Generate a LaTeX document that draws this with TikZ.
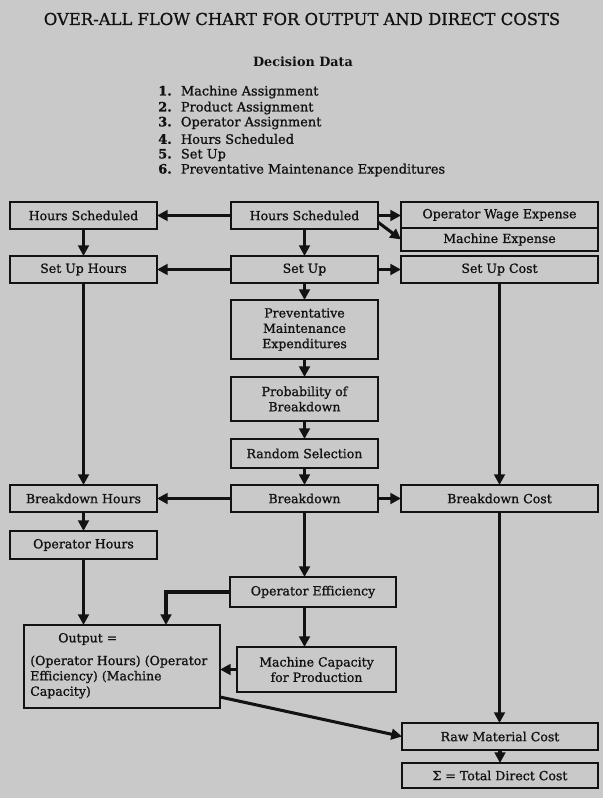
\documentclass[tikz,border=0pt]{standalone}
\usepackage{fontspec}
\setmainfont{DejaVu Serif}
\newfontfamily\heavyserif{DejaVu Serif}[FakeBold=1.0]
\usetikzlibrary{arrows.meta}

\definecolor{paper}{RGB}{201,201,201}
\definecolor{ink}{RGB}{18,18,18}

\newcommand\boxfont{\heavyserif\fontsize{9.4}{11.5}\selectfont}
\newcommand\listfont{\heavyserif\fontsize{9.7}{11.5}\selectfont}

\tikzset{
  box/.style={draw=ink, line width=1.1pt, inner sep=2pt, outer sep=0pt,
              text=ink, font=\boxfont, align=center},
  flow/.style={draw=ink, line width=2.3pt,
               -{Triangle[length=8pt,width=8pt]}},
  plain/.style={text=ink, font=\boxfont, inner sep=0pt},
}

% box given by its corners (x1,y1) (x2,y2) in pixel units
\newcommand\placebox[6]{%
  \node[box, minimum width={(#4-#2)*0.75pt}, minimum height={(#5-#3)*0.75pt}]
    (#1) at ({(#2+#4)/2},{(#3+#5)/2}) {#6};}

\begin{document}
\begin{tikzpicture}[x=0.75pt, y=-0.75pt]
\fill[paper] (0,0) rectangle (603,798);
\useasboundingbox (0,0) rectangle (603,798);

% heading and decision data
\node[plain, font=\heavyserif\fontsize{12.3}{15}\selectfont] (title) at (302,19)
  {OVER-ALL FLOW CHART FOR OUTPUT AND DIRECT COSTS};
\node[plain, font=\fontsize{9.6}{11.5}\selectfont\bfseries] (dd) at (303,62) {Decision Data};
\node[plain, font=\listfont, anchor=west] (d1) at (158,92)  {\makebox[17pt][l]{\bfseries 1.}Machine Assignment};
\node[plain, font=\listfont, anchor=west] (d2) at (158,108) {\makebox[17pt][l]{\bfseries 2.}Product Assignment};
\node[plain, font=\listfont, anchor=west] (d3) at (158,123) {\makebox[17pt][l]{\bfseries 3.}Operator Assignment};
\node[plain, font=\listfont, anchor=west] (d4) at (158,139) {\makebox[17pt][l]{\bfseries 4.}Hours Scheduled};
\node[plain, font=\listfont, anchor=west] (d5) at (158,155) {\makebox[17pt][l]{\bfseries 5.}Set Up};
\node[plain, font=\listfont, anchor=west] (d6) at (158,170) {\makebox[17pt][l]{\bfseries 6.}Preventative Maintenance Expenditures};

% boxes
\placebox{hsL}{10}{202}{157}{229}{Hours Scheduled}
\placebox{hsC}{231}{202}{378}{229}{Hours Scheduled}
\placebox{ow}{401}{202}{598}{228}{Operator Wage Expense}
\placebox{me}{401}{228}{598}{251}{Machine Expense}
\placebox{suL}{10}{256}{157}{283}{Set Up Hours}
\placebox{suC}{231}{256}{378}{283}{Set Up}
\placebox{suR}{401}{256}{598}{283}{Set Up Cost}
\placebox{pme}{231}{300}{378}{359}{Preventative\\Maintenance\\Expenditures}
\placebox{pb}{231}{377}{378}{421}{Probability of\\Breakdown}
\placebox{rs}{231}{439}{378}{468}{Random Selection}
\placebox{bdL}{10}{485}{157}{512}{Breakdown Hours}
\placebox{bdC}{231}{485}{378}{512}{Breakdown}
\placebox{bdR}{401}{485}{598}{512}{Breakdown Cost}
\placebox{oh}{10}{531}{157}{559}{Operator Hours}
\placebox{oe}{230}{577}{396}{607}{Operator Efficiency}
\placebox{mc}{237}{647}{396}{692}{Machine Capacity\\for Production}
\placebox{out}{24}{625}{220}{708}{}
\node[plain, anchor=west] (outA) at (58,639) {Output =};
\node[plain, anchor=west, align=left] (outB) at (30,677)
  {(Operator Hours) (Operator\\Efficiency) (Machine\\Capacity)};
\placebox{rm}{402}{723}{598}{750}{Raw Material Cost}
\placebox{td}{402}{763}{598}{788}{Σ = Total Direct Cost}

% connectors
\draw[flow] (hsC.west) -- (hsL.east);
\draw[flow] (hsC.east) -- (hsC.east -| ow.west);
\draw[flow] ([yshift=-5pt]hsC.east) -- (me.west);
\draw[flow] (hsL.south) -- (suL.north);
\draw[flow] (hsC.south) -- (suC.north);
\draw[flow] (suC.west) -- (suL.east);
\draw[flow] (suC.east) -- (suR.west);
\draw[flow] (suC.south) -- (pme.north);
\draw[flow] (pme.south) -- (pb.north);
\draw[flow] (pb.south) -- (rs.north);
\draw[flow] (rs.south) -- (bdC.north);
\draw[flow] (suL.south) -- (bdL.north);
\draw[flow] (suR.south) -- (bdR.north);
\draw[flow] (bdC.west) -- (bdL.east);
\draw[flow] (bdC.east) -- (bdR.west);
\draw[flow] (bdL.south) -- (oh.north);
\draw[flow] (bdC.south) -- (bdC.south |- oe.north);
\draw[flow] (oh.south) -- (oh.south |- out.north);
\coordinate (effIn) at (166,625);
\draw[flow] (oe.west) -| (effIn);
\draw[flow] (bdC.south |- oe.south) -- (bdC.south |- mc.north);
\draw[flow] (mc.west) -- (mc.west -| out.east);
\draw[flow] (bdR.south) -- (bdR.south |- rm.north);
\coordinate (outR) at (220,697);
\draw[flow] (outR) -- (rm.west);
\draw[flow] (rm.south) -- (td.north);
\end{tikzpicture}
\end{document}
